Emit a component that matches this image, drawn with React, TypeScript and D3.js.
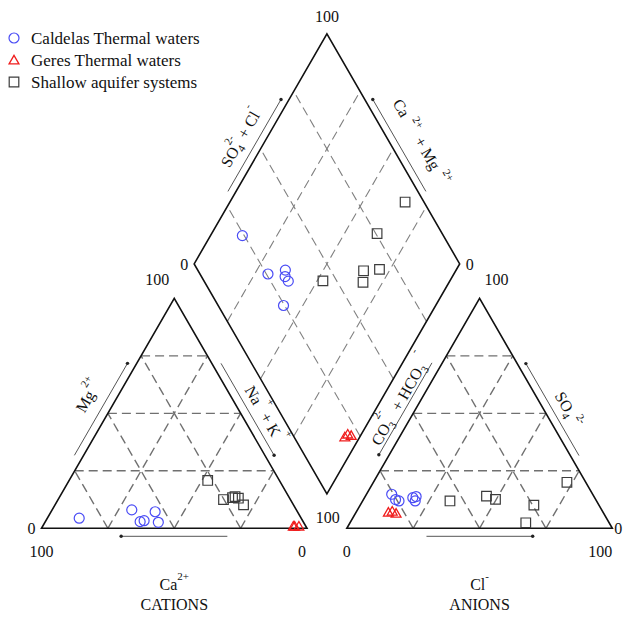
import React from "react";
import * as d3 from "d3";

const W = 623,
  H = 617;
const SIDE = 265.5; // px for 100 %
const GAP = 15; // gap between the two triangles, in % units
const X0 = 41.5,
  Y0 = 528.3;
const SQ = Math.sqrt(3) / 2;

// cations (%): Mg2+ and Na+ + K+ (Ca2+ is the rest)
const caldelasMg = [4.4, 8.0, 2.9, 3.3, 7.2, 2.6];
const caldelasNaK = [12.0, 30.0, 35.7, 37.0, 39.2, 42.7];
// anions (%): SO4 2- and Cl- (CO3 2- + HCO3- is the rest)
const caldelasSO4 = [14.8, 11.9, 13.8, 13.3, 11.9, 12.5];
const caldelasCl = [9.5, 13.7, 19.2, 18.2, 19.8, 12.1];

const geresMg = [0.5, 0.5, 0.5];
const geresNaK = [94.6, 95.1, 96.7];
const geresSO4 = [6.5, 7.0, 6.1];
const geresCl = [12.4, 13.6, 15.5];

const shallowMg = [20.8, 12.5, 13.8, 13.3, 13.1, 10.2];
const shallowNaK = [52.2, 62.3, 66.0, 65.3, 67.6, 71.0];
const shallowSO4 = [11.9, 10.1, 20.0, 12.6, 14.0, 2.4];
const shallowCl = [32.9, 65.4, 72.9, 49.7, 45.6, 66.2];

const gridSteps = [25, 50, 75];
const legendLabels = ["Caldelas Thermal waters", "Geres Thermal waters", "Shallow aquifer systems"];

const FONT = "'Liberation Serif', 'Times New Roman', serif";

const x = d3.scaleLinear().domain([0, 200 + GAP]).range([X0, X0 + (SIDE * (200 + GAP)) / 100]);
const y = d3.scaleLinear().domain([0, 100]).range([Y0, Y0 - SIDE]);

type P = [number, number];
const px = (p: P): P => [x(p[0]), y(p[1])];
// ternary -> plot coordinates (in % units)
const cat = (naK: number, mg: number): P => px([naK + mg / 2, mg * SQ]);
const an = (cl: number, so4: number): P => px([100 + GAP + cl + so4 / 2, so4 * SQ]);
// a = SO4 + Cl, b = Ca + Mg
const dia = (a: number, b: number): P => px([100 + GAP / 2 + (a - b) / 2, (GAP + a + b) * SQ]);

const line = d3.line();
const tri = d3.symbol(d3.symbolTriangle, 42)() as string;
const sqr = d3.symbol(d3.symbolSquare, 92)() as string;

function edgePos(p0: P, p1: P, t: number, off: number) {
  const dx = p1[0] - p0[0],
    dy = p1[1] - p0[1];
  const len = Math.hypot(dx, dy);
  const ux = dx / len,
    uy = dy / len;
  const nx = uy,
    ny = -ux; // "up" side of the text
  return {
    x: p0[0] + dx * t + nx * off,
    y: p0[1] + dy * t + ny * off,
    angle: (Math.atan2(dy, dx) * 180) / Math.PI,
  };
}

function Arrow({ p0, p1, off, head }: { p0: P; p1: P; off: number; head: number }) {
  const a = edgePos(p0, p1, 0.3, off);
  const b = edgePos(p0, p1, 0.7, off);
  const h = edgePos(p0, p1, head, off);
  return (
    <g>
      <line x1={a.x} y1={a.y} x2={b.x} y2={b.y} stroke="#555" strokeWidth={1} />
      <circle cx={h.x} cy={h.y} r={1.7} fill="#222" />
    </g>
  );
}

function EdgeLabel({ p0, p1, t, off, children }: { p0: P; p1: P; t: number; off: number; children: any }) {
  const e = edgePos(p0, p1, t, off);
  return (
    <g transform={`translate(${e.x},${e.y}) rotate(${e.angle})`}>
      <text textAnchor="middle" y={5} fontSize={16} fontFamily={FONT} fill="#111">
        {children}
      </text>
    </g>
  );
}

export default function App() {
  // corners
  const lBL = cat(0, 0),
    lBR = cat(100, 0),
    lT = cat(0, 100);
  const rBL = an(0, 0),
    rBR = an(100, 0),
    rT = an(0, 100);
  const dB = dia(0, 0),
    dR = dia(100, 0),
    dT = dia(100, 100),
    dL = dia(0, 100);

  const triGrid: [P, P][] = [];
  gridSteps.forEach((k) => {
    triGrid.push([cat(0, k), cat(100 - k, k)]);
    triGrid.push([cat(k, 0), cat(k, 100 - k)]);
    triGrid.push([cat(100 - k, 0), cat(0, 100 - k)]);
    triGrid.push([an(0, k), an(100 - k, k)]);
    triGrid.push([an(k, 0), an(k, 100 - k)]);
    triGrid.push([an(100 - k, 0), an(0, 100 - k)]);
  });
  const diaGrid: [P, P][] = [];
  gridSteps.forEach((k) => {
    diaGrid.push([dia(k, 0), dia(k, 100)]);
    diaGrid.push([dia(0, k), dia(100, k)]);
  });

  const places = (mg: number[], naK: number[], so4: number[], cl: number[]) =>
    mg.flatMap((m, i) => [
      cat(naK[i], m),
      an(cl[i], so4[i]),
      dia(so4[i] + cl[i], 100 - naK[i]),
    ]);

  const blue = "#4a4cf5";
  const red = "#f01c1c";
  const grey = "#3c3c3c";

  const tick = { fontSize: 16, fontFamily: FONT, fill: "#111" } as const;

  return (
    <svg width={W} height={H} style={{ position: "absolute", left: 0, top: 0, background: "#fff" }}>
      <rect width={W} height={H} fill="#fff" />

      {/* dashed grids */}
      {triGrid.map((l, i) => (
        <path key={"tg" + i} d={line(l) as string} stroke="#707070" strokeWidth={1.4} strokeDasharray="9,5" fill="none" />
      ))}
      {diaGrid.map((l, i) => (
        <path key={"dg" + i} d={line(l) as string} stroke="#808080" strokeWidth={1.1} strokeDasharray="9,5" fill="none" />
      ))}

      {/* outlines */}
      <path d={line([lBL, lBR, lT]) + "Z"} stroke="#111" strokeWidth={1.6} fill="none" />
      <path d={line([rBL, rBR, rT]) + "Z"} stroke="#111" strokeWidth={1.6} fill="none" />
      <path d={line([dB, dR, dT, dL]) + "Z"} stroke="#111" strokeWidth={1.6} fill="none" />

      {/* axis arrows */}
      <Arrow p0={lBL} p1={lT} off={8} head={0.7} />
      <Arrow p0={lT} p1={lBR} off={8} head={0.7} />
      <Arrow p0={lBL} p1={lBR} off={-8} head={0.3} />
      <Arrow p0={rBL} p1={rT} off={9} head={0.3} />
      <Arrow p0={rT} p1={rBR} off={7.5} head={0.3} />
      <Arrow p0={rBL} p1={rBR} off={-8} head={0.7} />
      <Arrow p0={dL} p1={dT} off={7} head={0.7} />
      <Arrow p0={dT} p1={dR} off={7} head={0.3} />

      {/* axis titles */}
      <EdgeLabel p0={lBL} p1={lT} t={0.52} off={25}>
        <tspan>Mg</tspan>
        <tspan fontSize={11} dx={1} dy={-11}>2+</tspan>
      </EdgeLabel>
      <EdgeLabel p0={lT} p1={lBR} t={0.55} off={20}>
        <tspan>Na</tspan>
        <tspan fontSize={11} dx={2} dy={-13}>+</tspan>
        <tspan dy={13}> + K</tspan>
        <tspan fontSize={11} dx={2} dy={-13}>+</tspan>
      </EdgeLabel>
      <EdgeLabel p0={dL} p1={dT} t={0.5} off={22}>
        <tspan>SO</tspan>
        <tspan fontSize={11} dy={4}>4</tspan>
        <tspan fontSize={11} dx={-6} dy={-15}>2-</tspan>
        <tspan dy={11}> + Cl</tspan>
        <tspan fontSize={11} dy={-12}>-</tspan>
      </EdgeLabel>
      <EdgeLabel p0={dT} p1={dR} t={0.53} off={27}>
        <tspan>Ca</tspan>
        <tspan fontSize={11} dx={6} dy={-9}>2+</tspan>
        <tspan dx={4} dy={9}> + Mg</tspan>
        <tspan fontSize={11} dx={6} dy={-9}>2+</tspan>
      </EdgeLabel>
      <EdgeLabel p0={rBL} p1={rT} t={0.52} off={17}>
        <tspan>CO</tspan>
        <tspan fontSize={11} dy={4}>3</tspan>
        <tspan fontSize={11} dx={-5} dy={-19}>2-</tspan>
        <tspan dx={4} dy={15}> + HCO</tspan>
        <tspan fontSize={11} dy={4}>3</tspan>
        <tspan fontSize={11} dx={6} dy={-19}>-</tspan>
      </EdgeLabel>
      <EdgeLabel p0={rT} p1={rBR} t={0.53} off={21}>
        <tspan>SO</tspan>
        <tspan fontSize={11} dy={4}>4</tspan>
        <tspan fontSize={11} dx={3} dy={-12}>2-</tspan>
      </EdgeLabel>

      {/* tick labels */}
      <text x={dT[0]} y={dT[1] - 12} textAnchor="middle" {...tick}>100</text>
      <text x={dL[0] - 6} y={dL[1] + 6} textAnchor="end" {...tick}>0</text>
      <text x={dR[0] + 6} y={dR[1] + 6} {...tick}>0</text>
      <text x={lT[0] - 5} y={lT[1] - 13} textAnchor="end" {...tick}>100</text>
      <text x={lBL[0] - 6} y={lBL[1] + 6} textAnchor="end" {...tick}>0</text>
      <text x={lBL[0]} y={lBL[1] + 29} textAnchor="middle" {...tick}>100</text>
      <text x={lBR[0] - 5} y={lBR[1] + 29} textAnchor="middle" {...tick}>0</text>
      <text x={rBL[0] - 7} y={rBL[1] - 5} textAnchor="end" {...tick}>100</text>
      <text x={rT[0] + 5} y={rT[1] - 13} {...tick}>100</text>
      <text x={rBR[0] + 2} y={rBR[1] + 6} {...tick}>0</text>
      <text x={rBL[0]} y={rBL[1] + 29} textAnchor="middle" {...tick}>0</text>
      <text x={rBR[0] - 12} y={rBR[1] + 29} textAnchor="middle" {...tick}>100</text>

      {/* bottom titles */}
      <text x={(lBL[0] + lBR[0]) / 2} y={590} textAnchor="middle" {...tick}>
        <tspan>Ca</tspan>
        <tspan fontSize={11} dy={-10}>2+</tspan>
      </text>
      <text x={(lBL[0] + lBR[0]) / 2} y={610} textAnchor="middle" {...tick}>CATIONS</text>
      <text x={(rBL[0] + rBR[0]) / 2} y={590} textAnchor="middle" {...tick}>
        <tspan>Cl</tspan>
        <tspan fontSize={11} dy={-10}>-</tspan>
      </text>
      <text x={(rBL[0] + rBR[0]) / 2} y={610} textAnchor="middle" {...tick}>ANIONS</text>

      {/* samples */}
      {places(shallowMg, shallowNaK, shallowSO4, shallowCl).map((p, i) => (
        <path key={"s" + i} d={sqr} transform={`translate(${p[0]},${p[1]})`} fill="none" stroke={grey} strokeWidth={1.2} />
      ))}
      {places(caldelasMg, caldelasNaK, caldelasSO4, caldelasCl).map((p, i) => (
        <circle key={"c" + i} cx={p[0]} cy={p[1]} r={5} fill="none" stroke={blue} strokeWidth={1.2} />
      ))}
      {places(geresMg, geresNaK, geresSO4, geresCl).map((p, i) => (
        <path key={"g" + i} d={tri} transform={`translate(${p[0]},${p[1]})`} fill="none" stroke={red} strokeWidth={1.3} />
      ))}

      {/* legend */}
      <g fontFamily={FONT} fontSize={17} fill="#111">
        <circle cx={14} cy={38} r={5} fill="none" stroke={blue} strokeWidth={1.2} />
        <path d={tri} transform="translate(14,61)" fill="none" stroke={red} strokeWidth={1.3} />
        <path d={sqr} transform="translate(14,82)" fill="none" stroke={grey} strokeWidth={1.2} />
        {legendLabels.map((s, i) => (
          <text key={s} x={31} y={44 + i * 22}>{s}</text>
        ))}
      </g>
    </svg>
  );
}
